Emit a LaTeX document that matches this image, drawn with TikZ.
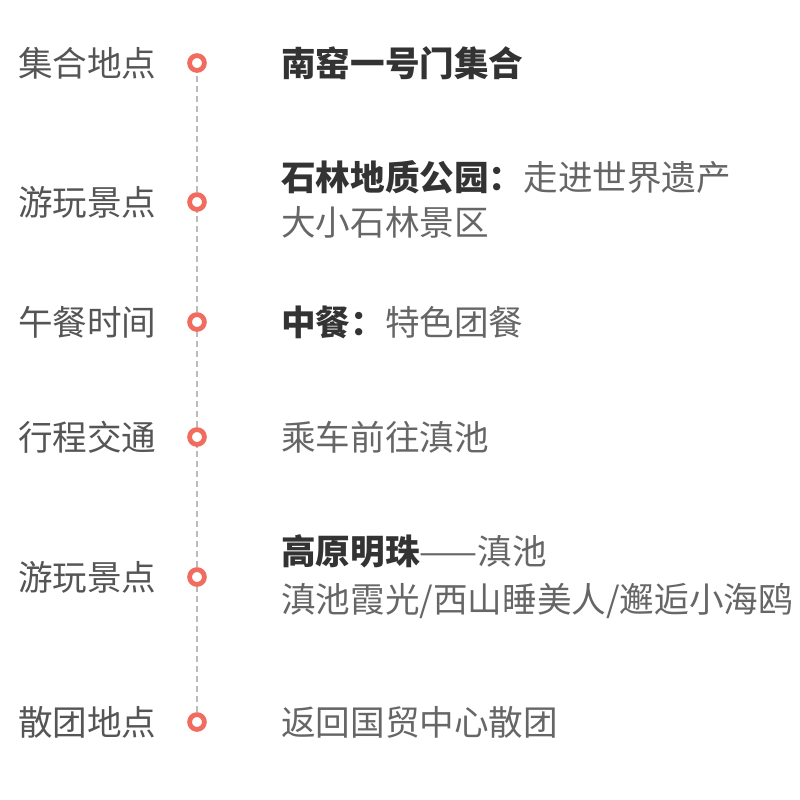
\documentclass[tikz,border=0pt]{standalone}
\usepackage{fontspec}
\newfontfamily\cjk{Noto Sans CJK SC}
\definecolor{dotred}{HTML}{F26B5F}
\definecolor{labgray}{HTML}{555555}
\definecolor{txtgray}{HTML}{666666}
\definecolor{boldgray}{HTML}{333333}
\definecolor{dashgray}{HTML}{BBBBBB}
\begin{document}
\begin{tikzpicture}[x=0.5pt,y=-0.5pt,
	dot/.style={circle,draw=dotred,line width=2.4pt,fill=white,minimum size=7.4pt,inner sep=0pt},
	lab/.style={anchor=east,inner sep=0pt,text=labgray,font=\cjk\fontsize{17.3pt}{22.5pt}\selectfont},
	info/.style={anchor=west,inner sep=0pt,align=left,text=txtgray,font=\cjk\fontsize{17.3pt}{22.5pt}\selectfont},
	hl/.style={densely dashed,draw=dashgray,line width=0.7pt}]
	\useasboundingbox (0,0) rectangle (800,800);
		\node[dot] (p1) at (197,63) {};
		\node[dot] (p2) at (197,202) {}
			edge[hl] (p1);
		\node[dot] (p3) at (197,322) {}
			edge[hl] (p2);
		\node[dot] (p4) at (197,437) {}
			edge[hl] (p3);
		\node[dot] (p5) at (197,577) {}
			edge[hl] (p4);
		\node[dot] (p6) at (197,722) {}
			edge[hl] (p5);
		\node[lab] (l1) at (157,63) {集合地点};
		\node[lab] (l2) at (157,202) {游玩景点};
		\node[lab] (l3) at (157,322) {午餐时间};
		\node[lab] (l4) at (157,437) {行程交通};
		\node[lab] (l5) at (157,577) {游玩景点};
		\node[lab] (l6) at (157,722) {散团地点};
		\node[info] (t1) at (281,63) {{\bfseries\color{boldgray}南窑一号门集合}};
		\node[info] (t2) at (281,199) {{\bfseries\color{boldgray}石林地质公园：}走进世界遗产\\大小石林景区};
		\node[info] (t3) at (281,322) {{\bfseries\color{boldgray}中餐：}特色团餐};
		\node[info] (t4) at (281,437) {乘车前往滇池};
		\node[info] (t5) at (281,577) {{\bfseries\color{boldgray}高原明珠}——滇池\\[1.5pt]滇池霞光/西山睡美人/邂逅小海鸥};
		\node[info] (t6) at (281,722) {返回国贸中心散团};
	\end{tikzpicture}
\end{document}
